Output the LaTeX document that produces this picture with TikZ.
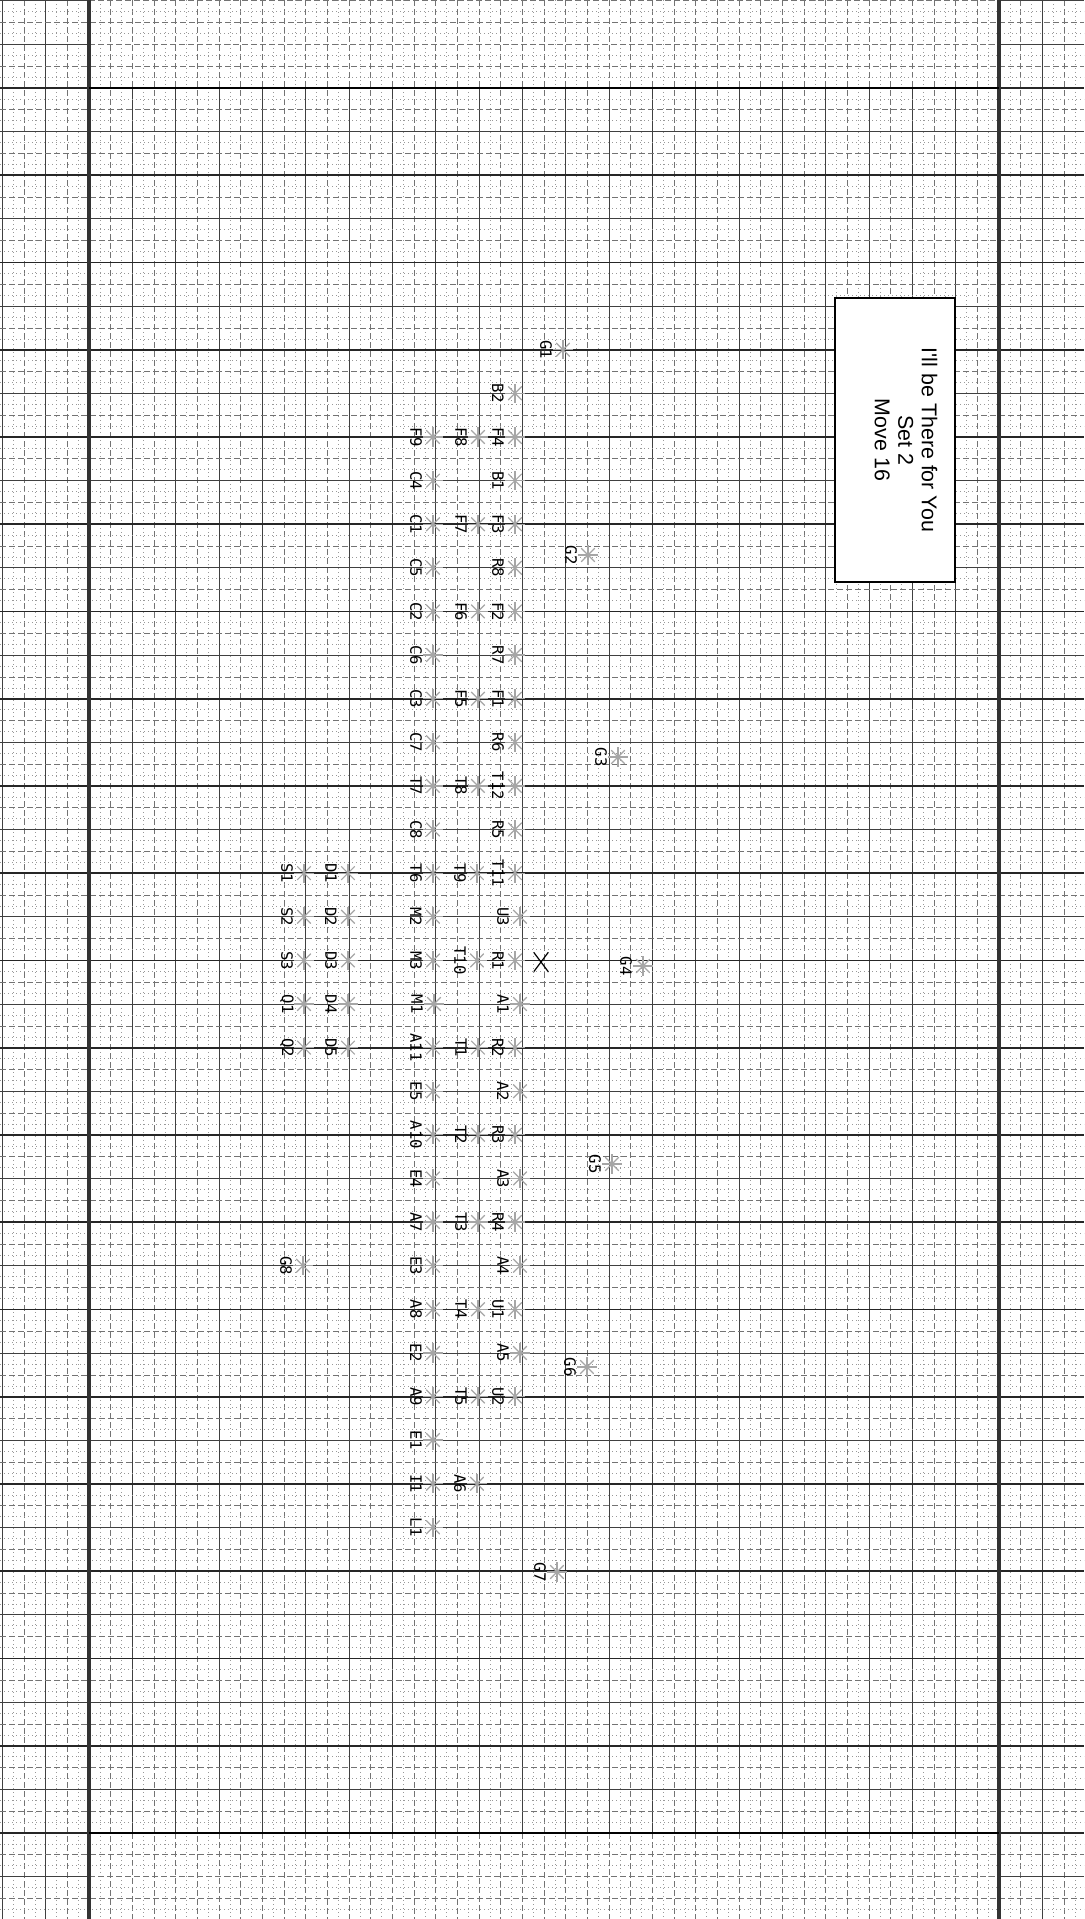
\documentclass[tikz,border=0pt]{standalone}
\usepackage{fontspec}
\setmainfont{Liberation Sans}
\newfontfamily\labfont{DejaVu Sans Mono}
\tikzset{
  gminor/.style={black!40, line width=0.3pt, dash pattern=on 0.6pt off 1.4pt},
  ghalf/.style={black!55, line width=0.35pt, dash pattern=on 3pt off 1.5pt},
  gmajor/.style={black!75, line width=0.5pt},
  gheavy/.style={black!85, line width=0.9pt},
  performer/.style={circle, minimum size=10pt, inner sep=0pt,
    path picture={\foreach \a in {0,45,...,315}{\draw[black!35, line width=0.6pt] (path picture bounding box.center) -- ++(\a:4.8pt);}}},
  xmark/.style={rectangle, minimum width=7.5pt, minimum height=10pt, inner sep=0pt,
    path picture={\draw[black, line width=0.6pt] (path picture bounding box.north west) -- (path picture bounding box.south east) (path picture bounding box.north east) -- (path picture bounding box.south west);}},
  lab/.style={font=\labfont\fontsize{7.8}{8}\selectfont, rotate=-90, inner sep=0pt},
  titlebox/.style={draw=black, line width=1.2pt, fill=white, minimum width=60pt, minimum height=142pt, inner sep=0pt},
  titletext/.style={rotate=-90, align=center, font=\fontsize{10.7}{11.7}\selectfont, inner sep=0pt},
}
\newcommand\mkperf[3]{\node[performer] (#1) at (#2,#3) {}; \path (#1.center) ++(-17,0) node[lab] {#1};}
\begin{document}
\begin{tikzpicture}[x=0.5pt, y=-0.5pt]
\useasboundingbox (0,0) rectangle (1084,1919);
\fill[white] (0,0) rectangle (1084,1919);
% vertical grid lines
\foreach \k in {-8,...,92} {
  \pgfmathsetmacro\xx{89+\k*10.8333}
  \pgfmathtruncatemacro\mt{mod(\k+80,2)}
  \pgfmathtruncatemacro\mf{mod(\k+80,4)}
  \ifnum\mt=1 \draw[gminor] (\xx,0) -- (\xx,1919);
  \else\ifnum\mf=2 \draw[ghalf] (\xx,0) -- (\xx,1919);
  \else
    \ifnum\k<0 \draw[gmajor] (\xx,0) -- (\xx,1919);
    \else\ifnum\k>84 \draw[gmajor] (\xx,0) -- (\xx,1919);
    \else
      \draw[ghalf] (\xx,0) -- (\xx,88);
      \draw[gmajor] (\xx,88) -- (\xx,1833);
      \draw[ghalf] (\xx,1833) -- (\xx,1919);
    \fi\fi
  \fi\fi
}
% horizontal grid lines
\foreach \j in {-8,...,168} {
  \pgfmathsetmacro\yy{88+\j*10.906}
  \pgfmathtruncatemacro\mt{mod(\j+80,2)}
  \pgfmathtruncatemacro\mf{mod(\j+80,4)}
  \pgfmathtruncatemacro\me{mod(\j+80,8)}
  \ifnum\mt=1 \draw[gminor] (0,\yy) -- (1084,\yy);
  \else\ifnum\mf=2 \draw[ghalf] (0,\yy) -- (1084,\yy);
  \else
    \ifnum\j<0
      \draw[gmajor] (0,\yy) -- (89,\yy) (999,\yy) -- (1084,\yy);
      \draw[ghalf] (89,\yy) -- (999,\yy);
    \else\ifnum\j>160
      \draw[gmajor] (0,\yy) -- (89,\yy) (999,\yy) -- (1084,\yy);
      \draw[ghalf] (89,\yy) -- (999,\yy);
    \else
      \ifnum\me=0 \draw[gheavy] (0,\yy) -- (1084,\yy);
      \else \draw[gmajor] (0,\yy) -- (1084,\yy); \fi
    \fi\fi
  \fi\fi
}
% field border
\draw[black!80, line width=1.8pt] (89,0) -- (89,1919) (999,0) -- (999,1919);
\draw[black, line width=1.1pt] (89,88) -- (999,88) (89,1833) -- (999,1833);
% title
\node[titlebox] (box) at (895,440) {};
\node[titletext] (title) at (906,440) {I\textquotesingle ll be There for You\\Set 2\\Move 16};
% performers
\mkperf{G1}{563}{349.7}
\mkperf{B2}{515}{393.3}
\mkperf{F9}{433}{437}
\mkperf{F8}{478}{437}
\mkperf{F4}{515}{437}
\mkperf{C4}{433}{480.6}
\mkperf{B1}{515}{480.6}
\mkperf{C1}{433}{524.2}
\mkperf{F7}{478}{524.2}
\mkperf{F3}{515}{524.2}
\mkperf{G2}{588}{555}
\mkperf{C5}{433}{567.8}
\mkperf{R8}{515}{567.8}
\mkperf{C2}{433}{611.4}
\mkperf{F6}{478}{611.4}
\mkperf{F2}{515}{611.4}
\mkperf{C6}{433}{655}
\mkperf{R7}{515}{655}
\mkperf{C3}{433}{698.7}
\mkperf{F5}{478}{698.7}
\mkperf{F1}{515}{698.7}
\mkperf{C7}{433}{742.3}
\mkperf{R6}{515}{742.3}
\mkperf{G3}{618}{757}
\mkperf{T7}{433}{785.9}
\mkperf{T8}{478}{785.9}
\mkperf{T12}{515}{785.9}
\mkperf{C8}{433}{829.5}
\mkperf{R5}{515}{829.5}
\mkperf{S1}{304}{873.1}
\mkperf{D1}{348}{873.1}
\mkperf{T6}{433}{873.1}
\mkperf{T9}{477}{873.1}
\mkperf{T11}{515}{873.1}
\mkperf{S2}{304}{916.7}
\mkperf{D2}{348}{916.7}
\mkperf{M2}{433}{916.7}
\mkperf{U3}{520}{916.7}
\mkperf{S3}{304}{960.4}
\mkperf{D3}{348}{960.4}
\mkperf{M3}{433}{960.4}
\mkperf{T10}{477}{960.4}
\mkperf{R1}{515}{960.4}
\node[xmark] (X) at (541,962) {};
\mkperf{G4}{643}{966}
\mkperf{Q1}{304}{1004}
\mkperf{D4}{348}{1004}
\mkperf{M1}{434}{1004}
\mkperf{A1}{520}{1004}
\mkperf{Q2}{304}{1047.6}
\mkperf{D5}{348}{1047.6}
\mkperf{A11}{433}{1047.6}
\mkperf{T1}{478}{1047.6}
\mkperf{R2}{515}{1047.6}
\mkperf{E5}{433}{1091.2}
\mkperf{A2}{520}{1091.2}
\mkperf{A10}{433}{1134.8}
\mkperf{T2}{478}{1134.8}
\mkperf{R3}{515}{1134.8}
\mkperf{G5}{612}{1164}
\mkperf{E4}{433}{1178.4}
\mkperf{A3}{520}{1178.4}
\mkperf{A7}{433}{1222}
\mkperf{T3}{478}{1222}
\mkperf{R4}{515}{1222}
\mkperf{G8}{303}{1265.7}
\mkperf{E3}{433}{1265.7}
\mkperf{A4}{520}{1265.7}
\mkperf{A8}{433}{1309.3}
\mkperf{T4}{478}{1309.3}
\mkperf{U1}{515}{1309.3}
\mkperf{E2}{433}{1352.9}
\mkperf{A5}{520}{1352.9}
\mkperf{G6}{587}{1367}
\mkperf{A9}{433}{1396.5}
\mkperf{T5}{478}{1396.5}
\mkperf{U2}{515}{1396.5}
\mkperf{E1}{433}{1440}
\mkperf{I1}{433}{1483.7}
\mkperf{A6}{477}{1483.7}
\mkperf{L1}{433}{1527.3}
\mkperf{G7}{557}{1572}
\end{tikzpicture}
\end{document}
